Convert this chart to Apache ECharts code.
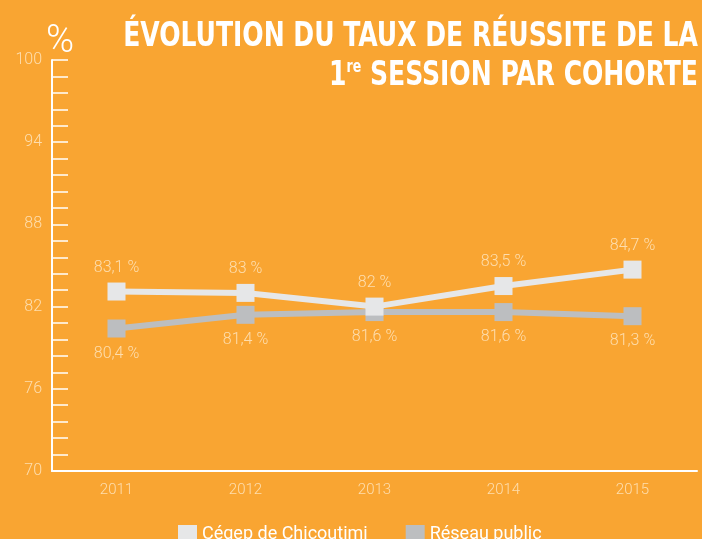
<!DOCTYPE html>
<html>
<head>
<meta charset="utf-8">
<script src="https://cdn.jsdelivr.net/npm/echarts@6/dist/echarts.min.js"></script>
<style>
html,body{margin:0;padding:0;background:#f9a532;}
#main{width:702px;height:539px;}
</style>
</head>
<body>
<div id="main"></div>
<script>
// données
var annees = ['2011', '2012', '2013', '2014', '2015'];
var cegep = [83.1, 83, 82, 83.5, 84.7];
var reseau = [80.4, 81.4, 81.6, 81.6, 81.3];
var nomsSeries = ['Cégep de Chicoutimi', 'Réseau public'];

var orangePale = 'rgba(255,240,215,0.75)';
var police = 'Roboto';
var policeTitre = "'DejaVu Sans Condensed', 'DejaVu Sans', sans-serif";

function pct(p) {
	return String(p.value).replace('.', ',') + ' %';
}

var myChart = echarts.init(document.getElementById('main'));
var option = {
	backgroundColor: '#f9a532',
	animation: false,
	// titre sur deux lignes, aligné à droite et un peu resserré
	graphic: [
		{
			type: 'text', x: 698, y: 20, scaleX: 0.82,
			style: {
				text: 'ÉVOLUTION DU TAUX DE RÉUSSITE DE LA',
				fill: '#fff', align: 'right', verticalAlign: 'top',
				font: 'bold 34px ' + policeTitre
			}
		},
		{
			type: 'text', x: 698, y: 59, scaleX: 0.82,
			style: {
				text: '{n|1}{s|re} SESSION PAR COHORTE',
				fill: '#fff', align: 'right', verticalAlign: 'top',
				font: 'bold 34px ' + policeTitre,
				rich: {
					n: {fill: '#fff', fontFamily: policeTitre, fontWeight: 'bold', fontSize: 34},
					s: {fill: '#fff', fontFamily: policeTitre, fontWeight: 'bold', fontSize: 17, verticalAlign: 'top', padding: [0, 0, 14, 0]}
				}
			}
		},
		{
			// unité de l'axe
			type: 'text', x: 46, y: 23,
			style: {
				text: '%', fill: '#fff', align: 'left', verticalAlign: 'top',
				font: '300 38px ' + police
			}
		}
	],
	legend: {
		data: nomsSeries,
		top: 520,
		left: 173,
		itemWidth: 19,
		itemHeight: 19,
		itemGap: 38,
		icon: 'rect',
		textStyle: {color: '#fff', fontSize: 18, fontFamily: police}
	},
	grid: {left: 52, right: 5, top: 60, bottom: 68},
	xAxis: {
		type: 'category',
		data: annees,
		boundaryGap: true,
		axisLine: {lineStyle: {color: '#fff', width: 2}},
		axisTick: {inside: true, length: 10, alignWithLabel: true, lineStyle: {color: '#fff', width: 2}},
		axisLabel: {color: orangePale, fontSize: 15, fontFamily: police, fontWeight: 300, margin: 12}
	},
	yAxis: {
		type: 'value',
		min: 70,
		max: 100,
		interval: 6,
		axisLine: {show: true, lineStyle: {color: '#fff', width: 2}},
		axisTick: {show: true, inside: true, length: 16, lineStyle: {color: '#fff', width: 1.5}},
		minorTick: {show: true, splitNumber: 5, length: 16, lineStyle: {color: '#fff', width: 1.5}},
		splitLine: {show: false},
		axisLabel: {color: orangePale, fontSize: 16, fontFamily: police, fontWeight: 300, margin: 10}
	},
	series: [
		{
			name: nomsSeries[0],
			type: 'line',
			data: cegep,
			symbol: 'rect',
			symbolSize: 18,
			z: 3,
			color: '#e6e7e8',
			lineStyle: {width: 6, color: '#e6e7e8'},
			itemStyle: {color: '#e6e7e8'},
			label: {show: true, position: 'top', distance: 7, formatter: pct, color: orangePale, fontSize: 16, fontFamily: police, fontWeight: 300}
		},
		{
			name: nomsSeries[1],
			type: 'line',
			data: reseau,
			symbol: 'rect',
			symbolSize: 18,
			z: 2,
			color: '#bcbec0',
			lineStyle: {width: 6, color: '#bcbec0'},
			itemStyle: {color: '#bcbec0'},
			label: {show: true, position: 'bottom', distance: 8, formatter: pct, color: orangePale, fontSize: 16, fontFamily: police, fontWeight: 300}
		}
	]
};
myChart.setOption(option);
</script>
</body>
</html>
